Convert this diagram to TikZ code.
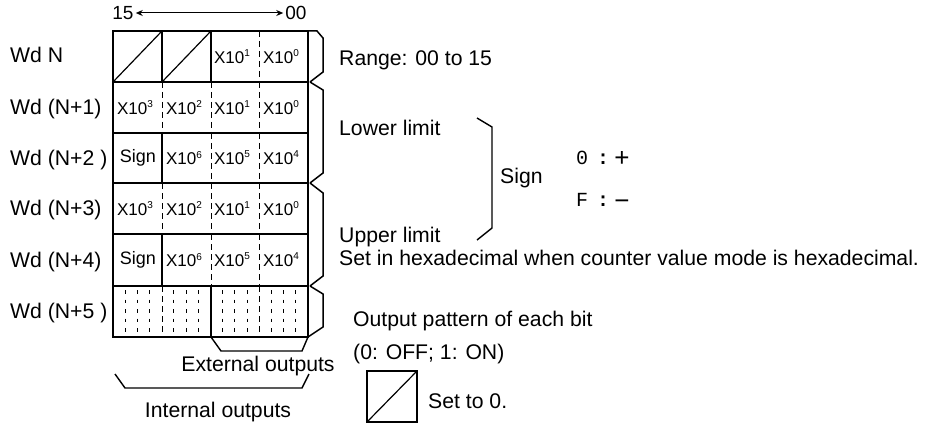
\documentclass[tikz,border=0pt]{standalone}
\usepackage{fontspec}
\setmainfont{Liberation Sans}
\newfontfamily\monof{Liberation Mono}
\usetikzlibrary{arrows.meta}
\newcommand\xpow[1]{X10\raisebox{0.4em}{\fontsize{10}{10}\selectfont #1}}
\begin{document}
\begin{tikzpicture}[x=1pt,y=-1pt,
  lbl/.style={font=\fontsize{21.2}{24}\selectfont, inner sep=0pt, text height=14.8pt, text depth=0pt, anchor=west},
  cell/.style={font=\fontsize{17}{19}\selectfont, inner sep=0pt},
  signcell/.style={font=\fontsize{18}{20}\selectfont, inner sep=0pt},
  codechar/.style={inner sep=0pt, anchor=base, font=\monof\fontsize{20}{22}\selectfont},
  codecolon/.style={inner sep=0pt, anchor=base, font=\monof\bfseries\fontsize{20}{22}\selectfont},
  codesign/.style={inner sep=0pt, anchor=base, font=\fontsize{26}{28}\selectfont},
  frameline/.style={line width=1.7pt},
  midline/.style={line width=1.2pt},
  dashline/.style={line width=1pt, dash pattern=on 6pt off 4pt},
  bitline/.style={line width=1pt, dash pattern=on 3.5pt off 6pt},
  brk/.style={line width=1.5pt, line join=miter},
  thinbrk/.style={line width=1.4pt}
]
\useasboundingbox (0,0) rectangle (940,425);

% top bit numbering
\node[inner sep=0pt, font=\fontsize{19}{21}\selectfont, text height=13.5pt, text depth=0pt] (n15) at (123,13) {15};
\node[inner sep=0pt, font=\fontsize{19}{21}\selectfont, text height=13.5pt, text depth=0pt] (n00) at (296,13) {00};
\draw[line width=1pt, {Stealth[length=7pt,width=6pt]}-{Stealth[length=7pt,width=6pt]}] ([xshift=2pt]n15.east) -- ([xshift=-2pt]n00.west);

% row labels
\node[lbl] (w0) at (10,55) {Wd N};
\node[lbl] (w1) at (10,107) {Wd (N+1)};
\node[lbl] (w2) at (10,158) {Wd (N+2 )};
\node[lbl] (w3) at (10,208.5) {Wd (N+3)};
\node[lbl] (w4) at (10,260) {Wd (N+4)};
\node[lbl] (w5) at (10,311.5) {Wd (N+5 )};

% table frame and horizontal lines
\draw[frameline] (113,31) rectangle (308,337);
\draw[frameline] (113,82) -- (308,82);
\draw[midline] (113,133) -- (308,133);
\draw[frameline] (113,183) -- (308,183);
\draw[midline] (113,234) -- (308,234);
\draw[frameline] (113,286) -- (308,286);

% row N
\draw[frameline] (162,31) -- (162,82);
\draw[frameline] (211,31) -- (211,82);
\draw[dashline] (259.5,31) -- (259.5,82);
\draw[midline] (113,82) -- (162,31);
\draw[midline] (162,82) -- (211,31);
% row N+1
\foreach \x in {162,211,259.5} \draw[dashline] (\x,82) -- (\x,133);
% row N+2
\draw[frameline] (162,133) -- (162,183);
\foreach \x in {211,259.5} \draw[dashline] (\x,133) -- (\x,183);
% row N+3
\foreach \x in {162,211,259.5} \draw[dashline] (\x,183) -- (\x,234);
% row N+4
\draw[frameline] (162,234) -- (162,286);
\foreach \x in {211,259.5} \draw[dashline] (\x,234) -- (\x,286);
% row N+5
\draw[dashline] (162,286) -- (162,337);
\draw[frameline] (211,286) -- (211,337);
\draw[dashline] (259.5,286) -- (259.5,337);
\foreach \k in {1,2,3,5,6,7,9,10,11,13,14,15}
  \draw[bitline] (113+\k*12.1875,290) -- (113+\k*12.1875,337);

% cell contents
\node[cell] (a3) at (232,56.5) {\xpow{1}};
\node[cell] (a4) at (281,56.5) {\xpow{0}};
\node[cell] (b1) at (135,107.5) {\xpow{3}};
\node[cell] (b2) at (184,107.5) {\xpow{2}};
\node[cell] (b3) at (232,107.5) {\xpow{1}};
\node[cell] (b4) at (281,107.5) {\xpow{0}};
\node[signcell] (c1) at (138,158) {Sign};
\node[cell] (c2) at (184,158) {\xpow{6}};
\node[cell] (c3) at (232,158) {\xpow{5}};
\node[cell] (c4) at (281,158) {\xpow{4}};
\node[cell] (d1) at (135,208.5) {\xpow{3}};
\node[cell] (d2) at (184,208.5) {\xpow{2}};
\node[cell] (d3) at (232,208.5) {\xpow{1}};
\node[cell] (d4) at (281,208.5) {\xpow{0}};
\node[signcell] (e1) at (138,260) {Sign};
\node[cell] (e2) at (184,260) {\xpow{6}};
\node[cell] (e3) at (232,260) {\xpow{5}};
\node[cell] (e4) at (281,260) {\xpow{4}};

% right brackets
\draw[brk] (308,31) -- (317,31) -- (323,38) -- (323,72) -- (310,82);
\draw[brk] (310,82) -- (323,90) -- (323,173) -- (310,183);
\draw[brk] (310,183) -- (323,193) -- (323,276) -- (310,286);
\draw[brk] (310,286) -- (323,294) -- (323,327) -- (308,337);

% right texts
\node[lbl] (rng) at (339,58) {Range: 00 to 15};
\node[lbl] (low) at (339,128) {Lower limit};
\node[lbl] (upp) at (339,235) {Upper limit};
\node[lbl] (hex) at (339,258) {Set in hexadecimal when counter value mode is hexadecimal.};
\draw[thinbrk] (477,118) -- (492,127) -- (492,228) -- (477,240);
\node[lbl] (sgn) at (500,176) {Sign};

% sign codes
\node[codechar] (z0) at (582,164.5) {0};
\node[codecolon] (zc) at (603,164.5) {:};
\node[codesign] (zp) at (622,166.5) {+};
\node[codechar] (f0) at (582,207) {F};
\node[codecolon] (fc) at (603,207) {:};
\node[codesign] (fm) at (622,209) {−};

% bottom brackets
\draw[thinbrk] (211,337) -- (221,351) -- (302,351) -- (308,337);
\node[lbl, anchor=center] (ext) at (258,364) {External outputs};
\draw[thinbrk] (115,374) -- (125,388) -- (302,388) -- (309,374);
\node[lbl, anchor=center] (int) at (218,410) {Internal outputs};

% legend
\node[lbl] (opb) at (353,319) {Output pattern of each bit};
\node[lbl] (oon) at (353,352) {(0: OFF; 1: ON)};
\draw[midline] (367,371) rectangle (417,422);
\draw[midline] (367,422) -- (417,371);
\node[lbl] (set0) at (428,401) {Set to 0.};
\end{tikzpicture}
\end{document}
